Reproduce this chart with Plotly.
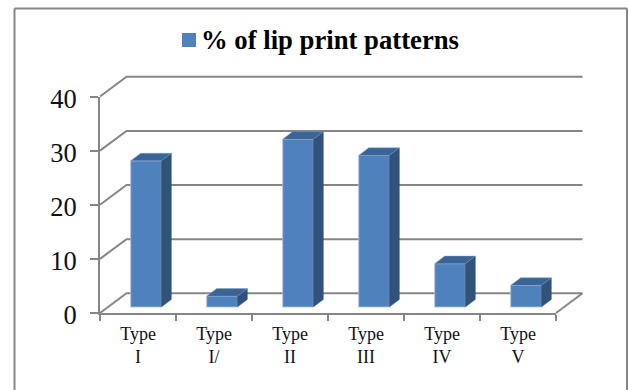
import plotly.graph_objects as go

categories = ["Type<br>I", "Type<br>I/", "Type<br>II", "Type<br>III", "Type<br>IV", "Type<br>V"]
values = [27, 2, 31, 28, 8, 4]
y_ticks = [0, 10, 20, 30, 40]
series_name = "<b>% of lip print patterns</b>"

W, H = 629, 390
FONT = "Liberation Serif"
GREY = "#868686"
FRONT, SIDE, TOP = "#4F81BD", "#30527B", "#3A6496"

# pixel scale of one category and one value unit
CAT_PX = 76.0
VAL_PX = 216.5 / 40
X0_PX, Y0_PX = 100.0, 313.0

# 3-D look: oblique wall depth and bar depth, in axis units
WALL_DX, WALL_DY = 26.5 / CAT_PX, 19.7 / VAL_PX
BAR_DX, BAR_DY = 10 / CAT_PX, 7.6 / VAL_PX
BAR_W = 30.6 / CAT_PX
BAR_SHIFT = 8 / CAT_PX
BAR_LIFT = 6 / VAL_PX

# extent of the overlay subplot that carries the marks
L, R, T, B = 90.0, 595.0, 65.0, 322.0


def hx(px):
    return (px - X0_PX) / CAT_PX - 0.5


def hy(px):
    return (Y0_PX - px) / VAL_PX


fig = go.Figure()

# empty trace so the visible axes get drawn
fig.add_trace(go.Scatter(x=[None], y=[None], mode="markers", showlegend=False, xaxis="x", yaxis="y"))

n = len(values)
centers = [i + BAR_SHIFT for i in range(n)]

fig.add_trace(go.Bar(
    x=centers, y=values, base=BAR_LIFT, width=BAR_W, name=series_name,
    marker=dict(color=FRONT, line=dict(color="#A9C2E0", width=0.8)),
    showlegend=False, xaxis="x2", yaxis="y2",
))

for c, v in zip(centers, values):
    left, right = c - BAR_W / 2, c + BAR_W / 2
    top = v + BAR_LIFT
    fig.add_trace(go.Scatter(
        x=[right, right + BAR_DX, right + BAR_DX, right, right],
        y=[BAR_LIFT, BAR_LIFT + BAR_DY, top + BAR_DY, top, BAR_LIFT],
        mode="lines", fill="toself", fillcolor=SIDE, line=dict(color=SIDE, width=0.5),
        showlegend=False, xaxis="x2", yaxis="y2",
    ))
    fig.add_trace(go.Scatter(
        x=[left, left + BAR_DX, right + BAR_DX, right, left],
        y=[top, top + BAR_DY, top + BAR_DY, top, top],
        mode="lines", fill="toself", fillcolor=TOP, line=dict(color="#7F9FC8", width=0.5),
        showlegend=False, xaxis="x2", yaxis="y2",
    ))

wall_line = dict(color=GREY, width=2)
shapes = []

# back-wall gridlines with their left-wall diagonals
x_front, x_end = -0.5, n - 0.5
for v in y_ticks:
    shapes.append(dict(
        type="path", layer="below", xref="x2", yref="y2", line=wall_line,
        path=f"M{x_front},{v} L{x_front + WALL_DX},{v + WALL_DY} L{x_end + WALL_DX},{v + WALL_DY}",
    ))

# right edge of the floor
shapes.append(dict(
    type="line", layer="below", xref="x2", yref="y2", line=wall_line,
    x0=x_end, y0=0, x1=x_end + WALL_DX, y1=WALL_DY,
))

# chart frame, open at the bottom of the page
for x0, y0, x1, y1 in [(14.5, 395, 14.5, 8.5), (14.5, 8.5, 627, 8.5), (627, 8.5, 627, 395)]:
    shapes.append(dict(
        type="line", xref="paper", yref="paper", line=wall_line,
        x0=x0 / W, x1=x1 / W, y0=1 - y0 / H, y1=1 - y1 / H,
    ))

# legend swatch beside the series name
shapes.append(dict(
    type="rect", xref="paper", yref="paper", line=dict(width=0), fillcolor=FRONT,
    x0=182 / W, x1=196 / W, y0=1 - 47 / H, y1=1 - 33 / H,
))

fig.update_layout(
    width=W, height=H,
    margin=dict(l=0, r=0, t=0, b=0, autoexpand=False),
    paper_bgcolor="white", plot_bgcolor="rgba(0,0,0,0)",
    font=dict(family=FONT, color="#111111"),
    shapes=shapes,
    showlegend=False,
    annotations=[dict(
        text=series_name, xref="paper", yref="paper", showarrow=False,
        x=203 / W, y=1 - 40 / H, xanchor="left", yanchor="middle", xshift=-4,
        font=dict(family=FONT, size=26.7, color="#000000"),
    )],
    xaxis=dict(
        domain=[X0_PX / W, (X0_PX + n * CAT_PX) / W],
        range=[-0.5, n - 0.5], anchor="y", fixedrange=True,
        tickmode="array", tickvals=list(range(n)), ticktext=categories,
        ticks="", tickfont=dict(family=FONT, size=18, color="#111111"),
        ticklabelstandoff=3,
        showline=True, linecolor=GREY, linewidth=2, showgrid=False, zeroline=False,
        minor=dict(
            tickmode="array", tickvals=[i - 0.5 for i in range(n + 1)],
            ticks="outside", ticklen=6, tickwidth=2, tickcolor=GREY, showgrid=False,
        ),
    ),
    yaxis=dict(
        domain=[1 - Y0_PX / H, 1 - (Y0_PX - 40 * VAL_PX) / H],
        range=[0, 40], anchor="x", fixedrange=True,
        tickmode="array", tickvals=y_ticks,
        ticks="outside", ticklen=8, tickwidth=2, tickcolor=GREY,
        tickfont=dict(family=FONT, size=26.5, color="#111111"),
        ticklabelstandoff=8, ticklabelshift=2,
        showline=True, linecolor=GREY, linewidth=2, showgrid=False, zeroline=False,
    ),
    xaxis2=dict(
        domain=[L / W, R / W], range=[hx(L), hx(R)], anchor="y2",
        visible=False, fixedrange=True,
    ),
    yaxis2=dict(
        domain=[1 - B / H, 1 - T / H], range=[hy(B), hy(T)], anchor="x2",
        visible=False, fixedrange=True,
    ),
)

fig.write_html("out.html", config=dict(displayModeBar=False))
